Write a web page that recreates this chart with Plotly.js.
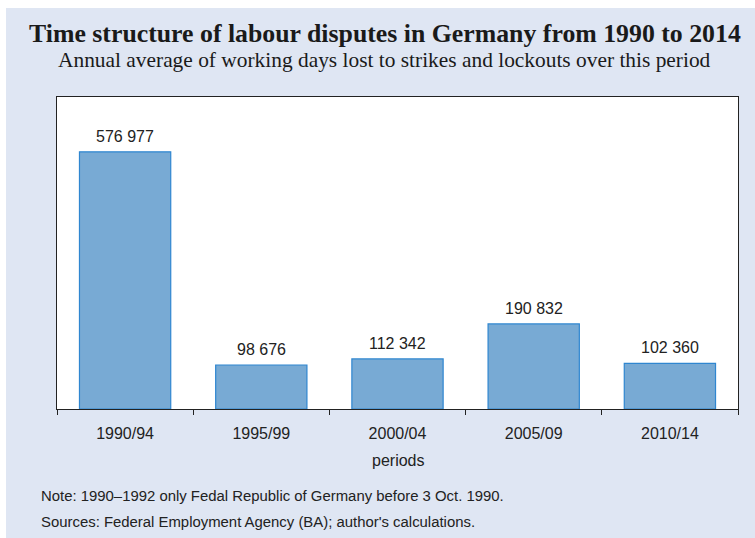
<!DOCTYPE html>
<html>
<head>
<meta charset="utf-8">
<script src="https://cdn.plot.ly/plotly-3.0.1.min.js"></script>
<style>
html, body { margin: 0; padding: 0; background: #ffffff; width: 755px; height: 538px; overflow: hidden; }
#chart { position: absolute; left: 6px; top: 8px; width: 749px; height: 530px; }
</style>
</head>
<body>
<div id="chart"></div>
<script>
const periods = ["1990/94", "1995/99", "2000/04", "2005/09", "2010/14"];
const daysLost = [576977, 98676, 112342, 190832, 102360];

const titleText = "Time structure of labour disputes in Germany from 1990 to 2014";
const subtitleText = "Annual average of working days lost to strikes and lockouts over this period";
const xTitleText = "periods";
const noteText = "Note: 1990\u20131992 only Fedal Republic of Germany before 3 Oct. 1990.";
const sourceText = "Sources: Federal Employment Agency (BA); author's calculations.";

function fmt(v) {
  return String(v).replace(/\B(?=(\d{3})+(?!\d))/g, " ");
}

const trace = {
  type: "bar",
  x: periods,
  y: daysLost,
  marker: { color: "#78aad4", line: { color: "#2f86d0", width: 1.2 } },
  hoverinfo: "x+y"
};

const valueLabels = periods.map((p, i) => ({
  text: fmt(daysLost[i]), x: p, y: daysLost[i], xref: "x", yref: "y",
  xanchor: "center", yanchor: "bottom", yshift: 5, showarrow: false,
  font: { family: "Liberation Sans, Arial, sans-serif", size: 16, color: "#222222" }
}));

const layout = {
  width: 749,
  height: 530,
  paper_bgcolor: "#dfe6f3",
  plot_bgcolor: "#ffffff",
  margin: { l: 51, r: 17, t: 89, b: 129 },
  bargap: 0.33,
  showlegend: false,
  font: { family: "Liberation Sans, Arial, sans-serif", color: "#222222" },
  xaxis: {
    type: "category",
    showline: true,
    linecolor: "#222222",
    linewidth: 1.2,
    mirror: true,
    ticks: "outside",
    tickson: "boundaries",
    ticklen: 5,
    tickcolor: "#222222",
    ticklabelstandoff: 10,
    tickfont: { size: 16, color: "#222222" },
    showgrid: false,
    zeroline: false
  },
  yaxis: {
    range: [0, 700000],
    showline: true,
    linecolor: "#222222",
    linewidth: 1.2,
    mirror: true,
    showticklabels: false,
    ticks: "",
    showgrid: false,
    zeroline: false
  },
  annotations: valueLabels.concat([
    { text: "<b>" + titleText + "</b>", xref: "paper", yref: "paper", x: 0.4816, y: 1.205,
      xanchor: "center", yanchor: "middle", showarrow: false,
      font: { family: "Liberation Serif, Times New Roman, serif", size: 25.8, color: "#1a1a1a" } },
    { text: subtitleText, xref: "paper", yref: "paper", x: 0.4816, y: 1.1186,
      xanchor: "center", yanchor: "middle", showarrow: false,
      font: { family: "Liberation Serif, Times New Roman, serif", size: 21.4, color: "#1a1a1a" } },
    { text: xTitleText, xref: "paper", yref: "paper", x: 0.5, y: -0.164,
      xanchor: "center", yanchor: "middle", showarrow: false,
      font: { size: 16, color: "#222222" } },
    { text: noteText, xref: "paper", yref: "paper", x: -0.027, y: -0.2788,
      xanchor: "left", yanchor: "middle", showarrow: false,
      font: { size: 14.9, color: "#222222" } },
    { text: sourceText, xref: "paper", yref: "paper", x: -0.027, y: -0.362,
      xanchor: "left", yanchor: "middle", showarrow: false,
      font: { size: 14.9, color: "#222222" } }
  ])
};

Plotly.newPlot("chart", [trace], layout, { displayModeBar: false, staticPlot: true });
</script>
</body>
</html>
